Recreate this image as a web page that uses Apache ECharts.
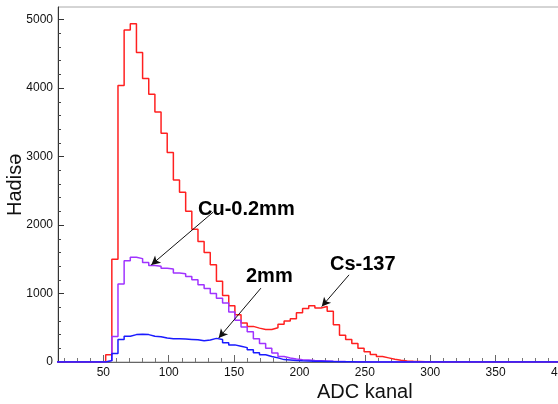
<!DOCTYPE html>
<html>
<head>
<meta charset="utf-8">
<script src="https://cdn.jsdelivr.net/npm/echarts@6/dist/echarts.min.js"></script>
<style>
html,body{margin:0;padding:0;background:#fff;}
#chart{width:558px;height:404px;}
</style>
</head>
<body>
<div id="chart"></div>
<script>
// ---- data (histogram bin contents) ----
const binWidth = 400 / 85;      // ADC channels per bin
const nBins = 85;               // bins covering 0..400
const firstBin = 11;            // index of first listed bin
// Cs-137 (red)
const cs137 = [106,1500,4040,4850,4940,4520,4140,3910,3650,3340,3060,2660,2480,2200,1940,1760,1600,1420,1180,970,820,690,570,520,495,475,475,500,550,600,630,720,780,820,790,810,740,545,390,330,270,200,150,110,80,60,40,25,15,10,8,5,4,3];
// Cu-0.2mm (violet)
const cu02 = [20,373,1140,1480,1530,1510,1455,1410,1400,1370,1360,1300,1290,1250,1200,1130,1075,1000,930,860,730,610,510,440,340,270,200,130,80,58,45,33,28,22,18,14,10,8,6,5,4,3];
// 2mm (blue)
const mm2 = [20,125,330,375,400,405,400,375,370,350,340,340,335,330,325,310,320,345,330,280,250,230,210,180,135,105,80,60,35,30,22,18,15,12,10,8,6,5,4,3];

const xMajorTicks = [50,100,150,200,250,300,350,400];
const xMinorTicks = [];
for (let v = 20; v < 400; v += 10) if (v % 50 !== 0) xMinorTicks.push(v);
const yMajorTicks = [0,1000,2000,3000,4000,5000];
const yMinorTicks = [];
for (let v = 200; v <= 5000; v += 200) if (v % 1000 !== 0) yMinorTicks.push(v);

const labels = [
  {text: 'Cu-0.2mm', arrowFrom: [134.1, 2191], arrowTo: [86.6, 1418]},
  {text: '2mm', arrowFrom: [170.5, 1079], arrowTo: [138.2, 350]},
  {text: 'Cs-137', arrowFrom: [237.9, 1273], arrowTo: [217.0, 810]}
];

function histPoints(arr) {
  const pts = [];
  for (let k = 0; k < nBins; k++) {
    const i = k - firstBin;
    const v = (i >= 0 && i < arr.length) ? arr[i] : 0;
    pts.push([k * binWidth, v]);
  }
  pts.push([nBins * binWidth, 0]);
  return pts;
}

const FONT = 'Liberation Sans, Arial, sans-serif';
const chart = echarts.init(document.getElementById('chart'), null, {renderer: 'canvas'});

function lineSeries(name, arr, color, extra) {
  return Object.assign({
    name: name,
    type: 'line',
    step: 'end',
    data: histPoints(arr),
    showSymbol: false,
    symbol: 'none',
    clip: true,
    lineStyle: {color: color, width: 1.5},
    itemStyle: {color: color},
    animation: false,
    z: 3
  }, extra || {});
}

const plain = v => String(v);

const option = {
  animation: false,
  grid: {left: 58, right: -3, top: 7, bottom: 42, containLabel: false, outerBoundsMode: 'none',
         show: true, borderColor: '#aaa', borderWidth: 1, backgroundColor: 'transparent'},
  xAxis: [
    {
      type: 'value', min: 15.3, max: 400, position: 'bottom',
      axisLine: {show: true, lineStyle: {color: '#666', width: 1}},
      axisTick: {show: true, inside: true, length: 7, customValues: xMajorTicks, lineStyle: {color: '#666'}},
      axisLabel: {show: true, customValues: xMajorTicks, formatter: plain, fontSize: 12, color: '#111', fontFamily: FONT, margin: 5},
      splitLine: {show: false}
    },
    {
      type: 'value', min: 15.3, max: 400, position: 'bottom',
      axisLine: {show: false},
      axisTick: {show: true, inside: true, length: 4, customValues: xMinorTicks, lineStyle: {color: '#777'}},
      axisLabel: {show: false},
      splitLine: {show: false}
    }
  ],
  yAxis: [
    {
      type: 'value', min: 0, max: 5185,
      axisLine: {show: true, lineStyle: {color: '#333', width: 1}},
      axisTick: {show: true, inside: true, length: 6, customValues: yMajorTicks, lineStyle: {color: '#333'}},
      axisLabel: {show: true, customValues: yMajorTicks, formatter: plain, fontSize: 12, color: '#111', fontFamily: FONT, margin: 5},
      splitLine: {show: false}
    },
    {
      type: 'value', min: 0, max: 5185, position: 'left',
      axisLine: {show: false},
      axisTick: {show: true, inside: true, length: 3, customValues: yMinorTicks, lineStyle: {color: '#444'}},
      axisLabel: {show: false},
      splitLine: {show: false}
    }
  ],
  series: [
    lineSeries('Cs-137', cs137, '#ff2020'),
    lineSeries('Cu-0.2mm', cu02, '#a033ff'),
    lineSeries('2mm', mm2, '#1a1aff', {
      markLine: {
        silent: true,
        animation: false,
        symbol: ['none', 'arrow'],
        symbolSize: [7, 9],
        label: {show: false},
        lineStyle: {color: '#111', width: 1, type: 'solid'},
        data: labels.map(l => [{coord: l.arrowFrom}, {coord: l.arrowTo}])
      }
    })
  ],
  graphic: [
    {type: 'text', left: 198, top: 199, style: {text: labels[0].text, font: 'bold 20px ' + FONT, fill: '#000'}},
    {type: 'text', left: 246, top: 266, style: {text: labels[1].text, font: 'bold 20px ' + FONT, fill: '#000'}},
    {type: 'text', left: 330, top: 254, style: {text: labels[2].text, font: 'bold 20px ' + FONT, fill: '#000'}},
    {type: 'text', left: 317, top: 382, style: {text: 'ADC kanal', font: '20px ' + FONT, fill: '#111'}},
    {type: 'text', x: 5, y: 216, rotation: Math.PI / 2, style: {text: 'Hadisə', font: '20px ' + FONT, fill: '#111'}}
  ]
};
chart.setOption(option);
</script>
</body>
</html>
